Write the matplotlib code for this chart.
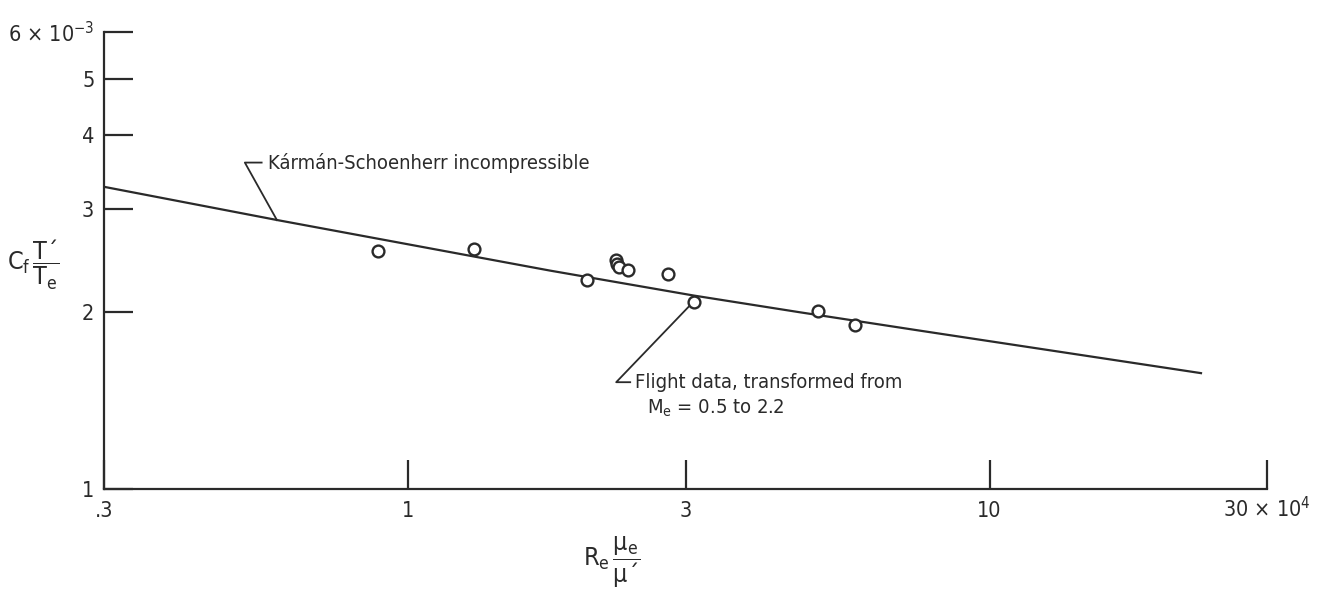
import matplotlib
matplotlib.use("Agg")
import matplotlib.pyplot as plt
from matplotlib import font_manager

# ---- data (x in units of 10^4, y in units of 10^-3) ----
flight_re = [0.887, 1.297, 2.03, 2.28, 2.29, 2.31, 2.39, 2.80, 3.10, 5.06, 5.88]
flight_cf = [2.54, 2.56, 2.265, 2.45, 2.42, 2.39, 2.36, 2.32, 2.085, 2.01, 1.90]

ks_re = [0.3, 0.595, 1.752, 3.10, 4.71, 7.55, 23.1]
ks_cf = [3.27, 2.871, 2.355, 2.135, 2.000, 1.862, 1.575]

x_ticks = [0.3, 1, 3, 10, 30]
x_ticklabels = [".3", "1", "3", "10", "30 × 10$^4$"]
y_ticks = [1, 2, 3, 4, 5, 6]
y_ticklabels = ["1", "2", "3", "4", "5", "6 × 10$^{-3}$"]

label_ks = "Kármán-Schoenherr incompressible"
label_flight_1 = "Flight data, transformed from"
label_flight_2 = "M$_e$ = 0.5 to 2.2"

# ---- font choice: a narrow sans if available ----
entries = font_manager.fontManager.ttflist
names = {f.name for f in entries}
stretch = "normal"
if "Liberation Sans Narrow" in names:
    FONT = "Liberation Sans Narrow"
else:
    FONT = "DejaVu Sans"
    for f in entries:
        if f.name == "DejaVu Sans" and str(f.stretch) in ("condensed", "semi-condensed", "87.5", "75"):
            stretch = "condensed"
            break

plt.rcParams["font.family"] = [FONT, "DejaVu Sans"]
plt.rcParams["font.stretch"] = stretch
plt.rcParams["mathtext.fontset"] = "custom"
plt.rcParams["mathtext.rm"] = FONT
plt.rcParams["mathtext.it"] = FONT
plt.rcParams["mathtext.sf"] = FONT
ink = "#2a2a2a"

fig = plt.figure(figsize=(13.17, 5.91), dpi=100)
ax = fig.add_axes([104 / 1317, 102 / 591, 1163 / 1317, 457 / 591])
ax.set_xscale("log")
ax.set_yscale("log")
ax.set_xlim(0.3, 30)
ax.set_ylim(1, 6)

ax.plot(ks_re, ks_cf, color=ink, lw=1.6, zorder=2)
ax.plot(flight_re, flight_cf, "o", ms=8.5, mfc="white", mec=ink, mew=1.7, zorder=3)

for s in ["top", "right"]:
    ax.spines[s].set_visible(False)
for s in ["left", "bottom"]:
    ax.spines[s].set_color(ink)
    ax.spines[s].set_linewidth(1.6)

ax.minorticks_off()
ax.set_xticks(x_ticks)
ax.set_xticklabels(x_ticklabels)
ax.set_yticks(y_ticks)
ax.set_yticklabels(y_ticklabels)
ax.tick_params(axis="both", direction="in", length=21, width=1.6, color=ink,
               labelsize=15.5, labelcolor=ink)
ax.tick_params(axis="x", pad=20)
ax.tick_params(axis="y", pad=7)
for lab in ax.get_xticklabels():
    lab.set_verticalalignment("baseline")
    lab.set_fontstretch(stretch)
for lab in ax.get_yticklabels():
    lab.set_fontstretch(stretch)

TXT = 14.5
# leader for Karman-Schoenherr
ax.plot([0.595, 0.524, 0.560], [2.87, 3.596, 3.596], color=ink, lw=1.3, clip_on=False)
ax.text(0.574, 3.596, label_ks, fontsize=TXT, color=ink, va="center", ha="left",
        fontstretch=stretch)

# leader for flight data
ax.plot([3.05, 2.28, 2.41], [2.052, 1.52, 1.52], color=ink, lw=1.3, clip_on=False)
ax.text(2.46, 1.52, label_flight_1, fontsize=TXT, color=ink, va="center", ha="left",
        fontstretch=stretch)
ax.text(2.58, 1.37, label_flight_2, fontsize=TXT, color=ink, va="center", ha="left",
        fontstretch=stretch)

# axis labels
fig.text(33 / 1317, 1 - 265 / 591, "C$_f\\,\\dfrac{\\mathrm{T\u00b4}}{\\mathrm{T}_e}$",
         fontsize=18, color=ink, ha="center", va="center", fontstretch=stretch)
fig.text(612 / 1317, 1 - 562 / 591, "R$_e\\,\\dfrac{\\mu_e}{\\mu\u00b4}$",
         fontsize=18, color=ink, ha="center", va="center", fontstretch=stretch)

fig.savefig("out.png", dpi=100, facecolor="white")
